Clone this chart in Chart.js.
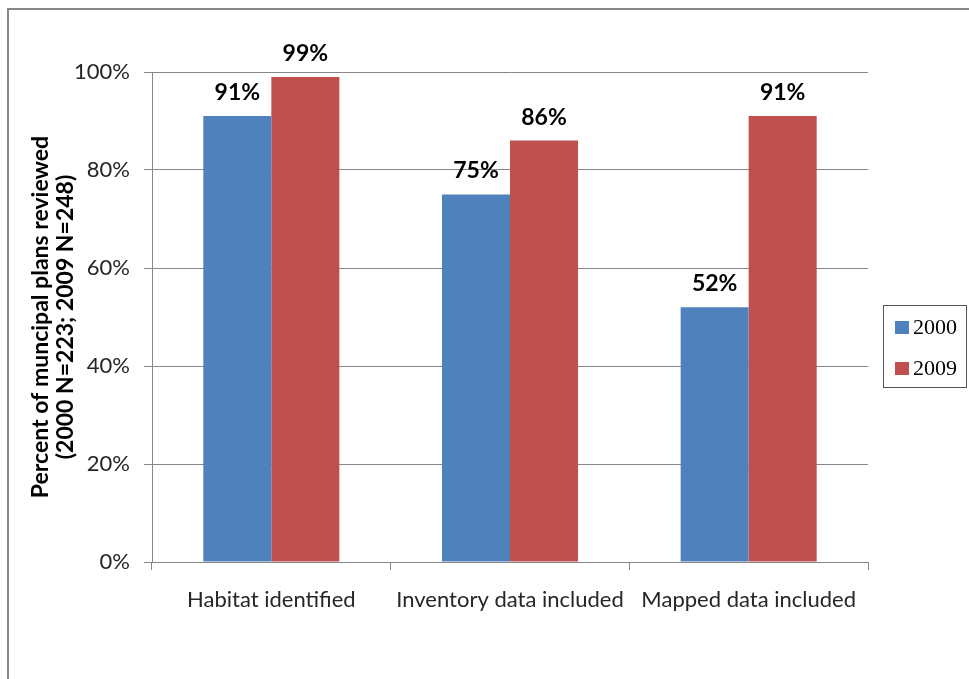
<!DOCTYPE html>
<html>
<head>
<meta charset="utf-8">
<script src="https://cdn.jsdelivr.net/npm/chart.js@4.4.0/dist/chart.umd.min.js"></script>
<style>
html,body{margin:0;padding:0;background:#fff;}
#wrap{position:relative;width:969px;height:679px;}
</style>
</head>
<body>
<div id="wrap"><canvas id="c" width="969" height="679"></canvas></div>
<script>
const categories = ["Habitat identified", "Inventory data included", "Mapped data included"];
const series2000 = [91, 75, 52];
const series2009 = [99, 86, 91];
const seriesNames = ["2000", "2009"];
const yTicks = [0, 20, 40, 60, 80, 100];
const yTitle = ["Percent of muncipal plans reviewed", "(2000 N=223; 2009 N=248)"];

const FONT = "Lato, 'Open Sans', sans-serif";

const framePlugin = {
  id: 'frame',
  beforeDraw(chart) {
    const ctx = chart.ctx;
    ctx.save();
    ctx.fillStyle = '#fff';
    ctx.fillRect(0, 0, chart.width, chart.height);
    ctx.strokeStyle = '#868686';
    ctx.lineWidth = 2;
    ctx.beginPath();
    ctx.moveTo(8, chart.height + 2);
    ctx.lineTo(8, 9);
    ctx.lineTo(chart.width + 2, 9);
    ctx.stroke();
    ctx.restore();
  }
};

const labelPlugin = {
  id: 'valueLabels',
  afterDatasetsDraw(chart) {
    const ctx = chart.ctx;
    ctx.save();
    ctx.font = "bold 23px " + FONT;
    ctx.fillStyle = '#000';
    ctx.textAlign = 'center';
    ctx.textBaseline = 'bottom';
    chart.data.datasets.forEach((ds, i) => {
      const meta = chart.getDatasetMeta(i);
      meta.data.forEach((bar, j) => {
        ctx.fillText(ds.data[j] + '%', bar.x, bar.y - 12);
      });
    });
    ctx.restore();
  }
};

const legendPlugin = {
  id: 'boxLegend',
  afterDraw(chart) {
    const ctx = chart.ctx;
    ctx.save();
    const x0 = 883.5, y0 = 305.5, w = 83, h = 82;
    ctx.strokeStyle = '#555';
    ctx.lineWidth = 1;
    ctx.strokeRect(x0, y0, w, h);
    ctx.font = "22px 'Liberation Serif', serif";
    ctx.textBaseline = 'middle';
    ctx.textAlign = 'left';
    chart.data.datasets.forEach((ds, i) => {
      const cy = 327 + i * 41;
      ctx.fillStyle = ds.backgroundColor;
      ctx.fillRect(895, cy - 6, 14, 13);
      ctx.fillStyle = '#000';
      ctx.fillText(ds.label, 913, cy + 1);
    });
    ctx.restore();
  }
};

new Chart(document.getElementById('c'), {
  type: 'bar',
  data: {
    labels: categories,
    datasets: [
      { label: seriesNames[0], data: series2000, backgroundColor: '#4F81BD' },
      { label: seriesNames[1], data: series2009, backgroundColor: '#C0504D' }
    ]
  },
  options: {
    responsive: false,
    animation: false,
    devicePixelRatio: 1,
    layout: { padding: { top: 72, right: 101, left: 0, bottom: 0 } },
    datasets: { bar: { categoryPercentage: 0.57, barPercentage: 1.0 } },
    plugins: { legend: { display: false }, tooltip: { enabled: false } },
    scales: {
      x: {
        afterFit(scale) { scale.height = 117; },
        grid: { offset: true, drawOnChartArea: false, drawTicks: true, tickLength: 8, color: '#868686' },
        border: { display: true, color: '#868686' },
        ticks: { color: '#262626', font: { family: FONT, size: 22 }, padding: 17 }
      },
      y: {
        min: 0, max: 100,
        afterFit(scale) { scale.width = 152; },
        afterBuildTicks(scale) { scale.ticks = yTicks.map(v => ({ value: v })); },
        grid: { color: '#868686', tickLength: 8 },
        border: { display: true, color: '#868686' },
        ticks: { color: '#262626', font: { family: FONT, size: 22 }, padding: 14, callback: v => v + '%' },
        title: {
          display: true,
          text: yTitle,
          color: '#000',
          font: { family: FONT, size: 23, weight: 'bold', lineHeight: 1.05 },
          padding: { top: 29, bottom: 0 }
        }
      }
    }
  },
  plugins: [framePlugin, labelPlugin, legendPlugin]
});
</script>
</body>
</html>
